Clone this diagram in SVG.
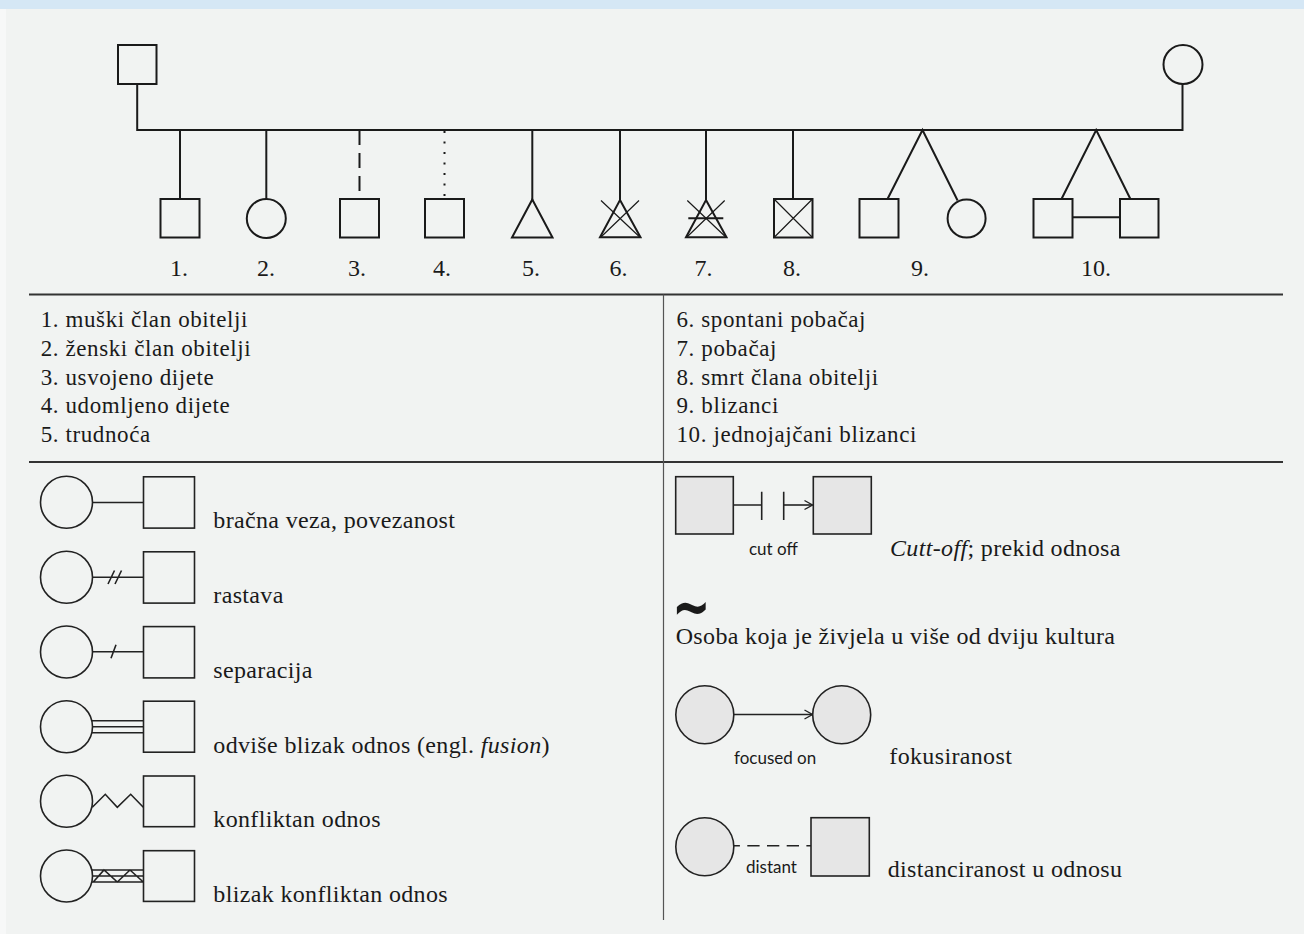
<svg xmlns="http://www.w3.org/2000/svg" width="1304" height="934" viewBox="0 0 1304 934">
<defs>
<style>
.ped{fill:none;stroke:#1a1a1a;stroke-width:2}
.pedf{fill:#f1f3f2;stroke:#1a1a1a;stroke-width:2}
.thin{fill:none;stroke:#1a1a1a;stroke-width:1.2}
.leg{fill:none;stroke:#222;stroke-width:1.6}
.legf{fill:#f1f3f2;stroke:#222;stroke-width:1.6}
.grey{fill:#e6e6e6;stroke:#222;stroke-width:1.6}
.rule{stroke:#333;stroke-width:2}
.vrule{stroke:#555;stroke-width:1.2}
text{font-family:"Liberation Serif",serif;fill:#1a1a1a}
.lbl{font-size:24px;text-anchor:middle}
.tbl{font-size:23px;letter-spacing:0.6px}
.txt{font-size:24px;letter-spacing:0.35px}
.sans{font-family:Lato,"Open Sans",sans-serif;font-size:17px}
</style>
<marker id="chev" markerUnits="userSpaceOnUse" markerWidth="12" markerHeight="12" refX="9" refY="5" orient="auto" viewBox="0 0 12 10"><path d="M1,0.5 L9,5 L1,9.5" fill="none" stroke="#222" stroke-width="1.4"/></marker>
</defs>
<rect width="1304" height="934" fill="#f7f8f8"/>
<rect x="6" y="0" width="1298" height="934" fill="#f1f3f2"/>
<rect width="1304" height="9" fill="#d5e7f5"/>

<g id="connectors">
  <path class="ped" d="M137.2,84 V130 H1182.5 V84"/>
  <path class="ped" d="M180,130 V199"/>
  <path class="ped" d="M266.3,130 V199"/>
  <path class="ped" d="M359.5,130 V199" stroke-dasharray="15 8"/>
  <path class="ped" d="M444.5,131 V199" stroke-dasharray="2 8.5"/>
  <path class="ped" d="M532.3,130 V200"/>
  <path class="ped" d="M620,130 V200"/>
  <path class="ped" d="M706,130 V200"/>
  <path class="ped" d="M793,130 V199"/>
  <path class="ped" d="M887.5,199 L922.5,130 L957.6,200.5"/>
  <path class="ped" d="M1061.5,199 L1096.2,130 L1130.4,199"/>
  <path class="ped" d="M1072.5,217.3 H1120"/>
  <path class="leg" d="M92.5,502.5 H143.5"/>
  <path class="leg" d="M92.5,577.3 H143.5 M108,584 L114.5,570.5 M115,584 L121.5,570.5"/>
  <path class="leg" d="M92.5,651.7 H143.5 M111,658.3 L116,644.8"/>
  <path class="leg" d="M91.5,720.7 H143.5 M92.5,726.7 H143.5 M91.5,732.7 H143.5"/>
  <path class="leg" d="M92.3,807.3 L105.3,794.3 L117.3,807.3 L130.7,794.3 L143.3,807.3"/>
  <path class="leg" d="M91.5,870 H143.5 M92.5,876 H143.5 M91.5,882 H143.5 M93.3,882 L104,870 L117.3,882 L130,870 L143.3,882"/>
  <path class="leg" d="M733.3,505 H761.7 M761.7,491.7 V520 M783.7,491.7 V520"/>
  <path class="leg" d="M783.7,505 H812.5" marker-end="url(#chev)"/>
  <path class="leg" d="M734,714.5 H812.5" marker-end="url(#chev)"/>
  <path class="leg" d="M734,845.7 H811" stroke-dasharray="12.3 7.4" stroke-dashoffset="6.4"/>
</g>

<g id="father"><rect class="pedf" x="118" y="45" width="38.5" height="39"/></g>
<g id="mother"><circle class="pedf" cx="1183" cy="64.5" r="19.5"/></g>
<g id="child1"><rect class="pedf" x="160.5" y="199" width="39" height="38.5"/><text class="lbl" x="179" y="276">1.</text></g>
<g id="child2"><circle class="pedf" cx="266.3" cy="218.5" r="19.5"/><text class="lbl" x="266" y="276">2.</text></g>
<g id="child3"><rect class="pedf" x="340" y="199" width="39" height="38.5"/><text class="lbl" x="357" y="276">3.</text></g>
<g id="child4"><rect class="pedf" x="425" y="199" width="39" height="38.5"/><text class="lbl" x="442" y="276">4.</text></g>
<g id="child5"><polygon class="pedf" points="532.3,199.5 552.5,237.5 512,237.5"/><text class="lbl" x="531" y="276">5.</text></g>
<g id="child6"><polygon class="pedf" points="620,200 640.5,237.3 600,237.3"/><path class="thin" d="M601,200.5 L640,237.3 M639,200.5 L600.7,237.3"/><text class="lbl" x="618.5" y="276">6.</text></g>
<g id="child7"><polygon class="pedf" points="706,200 726.5,237.3 686,237.3"/><path class="thin" d="M687.3,200.5 L726,237.3 M724.7,200.5 L686.7,237.3"/><path class="ped" d="M688.3,218.3 H723.3" stroke-width="1.6"/><text class="lbl" x="703.5" y="276">7.</text></g>
<g id="child8"><rect class="pedf" x="774" y="199" width="38.5" height="38.5"/><path class="thin" d="M774,199 L812.5,237.5 M812.5,199 L774,237.5"/><text class="lbl" x="792" y="276">8.</text></g>
<g id="twins9"><rect class="pedf" x="859.5" y="199" width="39" height="38.5"/><circle class="pedf" cx="966.6" cy="218.5" r="19"/><text class="lbl" x="920" y="276">9.</text></g>
<g id="twins10"><rect class="pedf" x="1033.5" y="199" width="39" height="38.5"/><rect class="pedf" x="1120" y="199" width="38.5" height="38.5"/><text class="lbl" x="1096" y="276">10.</text></g>

<g id="table">
  <line class="rule" x1="29" y1="294.5" x2="1283" y2="294.5"/>
  <line class="rule" x1="29" y1="462" x2="1283" y2="462"/>
  <line class="vrule" x1="663.5" y1="294.5" x2="663.5" y2="920"/>
  <text class="tbl" x="40.7" y="327.3">1. muški član obitelji</text>
  <text class="tbl" x="40.7" y="356">2. ženski član obitelji</text>
  <text class="tbl" x="40.7" y="384.7">3. usvojeno dijete</text>
  <text class="tbl" x="40.7" y="413.3">4. udomljeno dijete</text>
  <text class="tbl" x="40.7" y="442">5. trudnoća</text>
  <text class="tbl" x="676.5" y="327.3">6. spontani pobačaj</text>
  <text class="tbl" x="676.5" y="356">7. pobačaj</text>
  <text class="tbl" x="676.5" y="384.7">8. smrt člana obitelji</text>
  <text class="tbl" x="676.5" y="413.3">9. blizanci</text>
  <text class="tbl" x="676.5" y="442">10. jednojajčani blizanci</text>
</g>

<g id="leg-marriage"><circle class="legf" cx="66.5" cy="502.2" r="26"/><rect class="legf" x="143.5" y="476.8" width="51" height="51.3"/><text class="txt" x="213.3" y="528.3">bračna veza, povezanost</text></g>
<g id="leg-divorce"><circle class="legf" cx="66.5" cy="577.2" r="26"/><rect class="legf" x="143.5" y="551.8" width="51" height="51.3"/><text class="txt" x="213.3" y="603.3">rastava</text></g>
<g id="leg-separation"><circle class="legf" cx="66.5" cy="652" r="26"/><rect class="legf" x="143.5" y="626.6" width="51" height="51.3"/><text class="txt" x="213.3" y="678.3">separacija</text></g>
<g id="leg-fusion"><circle class="legf" cx="66.5" cy="726.8" r="26"/><rect class="legf" x="143.5" y="701.2" width="51" height="51"/><text class="txt" x="213.3" y="753.3">odviše blizak odnos (engl. <tspan font-style="italic">fusion</tspan>)</text></g>
<g id="leg-conflict"><circle class="legf" cx="66.5" cy="801.2" r="26"/><rect class="legf" x="143.5" y="776" width="51" height="50.7"/><text class="txt" x="213.3" y="827.3">konfliktan odnos</text></g>
<g id="leg-closeconflict"><circle class="legf" cx="66.5" cy="876" r="26"/><rect class="legf" x="143.5" y="850.7" width="51" height="50.7"/><text class="txt" x="213.3" y="901.7">blizak konfliktan odnos</text></g>

<g id="leg-cutoff"><rect class="grey" x="675.7" y="476.7" width="57.6" height="57.3"/><rect class="grey" x="813.3" y="476.7" width="58" height="57.3"/><text class="sans" x="749" y="555">cut off</text><text class="txt" x="890" y="555.7"><tspan font-style="italic">Cutt-off</tspan>; prekid odnosa</text></g>
<g id="leg-cultures"><text transform="translate(672,627.5) scale(1,1.4)" style="font-family:'DejaVu Sans',sans-serif;font-weight:bold;font-size:46px">~</text><text class="txt" x="675.7" y="644">Osoba koja je živjela u više od dviju kultura</text></g>
<g id="leg-focused"><circle class="grey" cx="704.8" cy="714.8" r="29"/><circle class="grey" cx="841.7" cy="714.8" r="29"/><text class="sans" x="734" y="764">focused on</text><text class="txt" x="889.3" y="764">fokusiranost</text></g>
<g id="leg-distant"><circle class="grey" cx="704.8" cy="846.8" r="29"/><rect class="grey" x="811" y="817.7" width="58.3" height="58.3"/><text class="sans" x="746" y="872.7">distant</text><text class="txt" x="887.7" y="876.7">distanciranost u odnosu</text></g>
</svg>
